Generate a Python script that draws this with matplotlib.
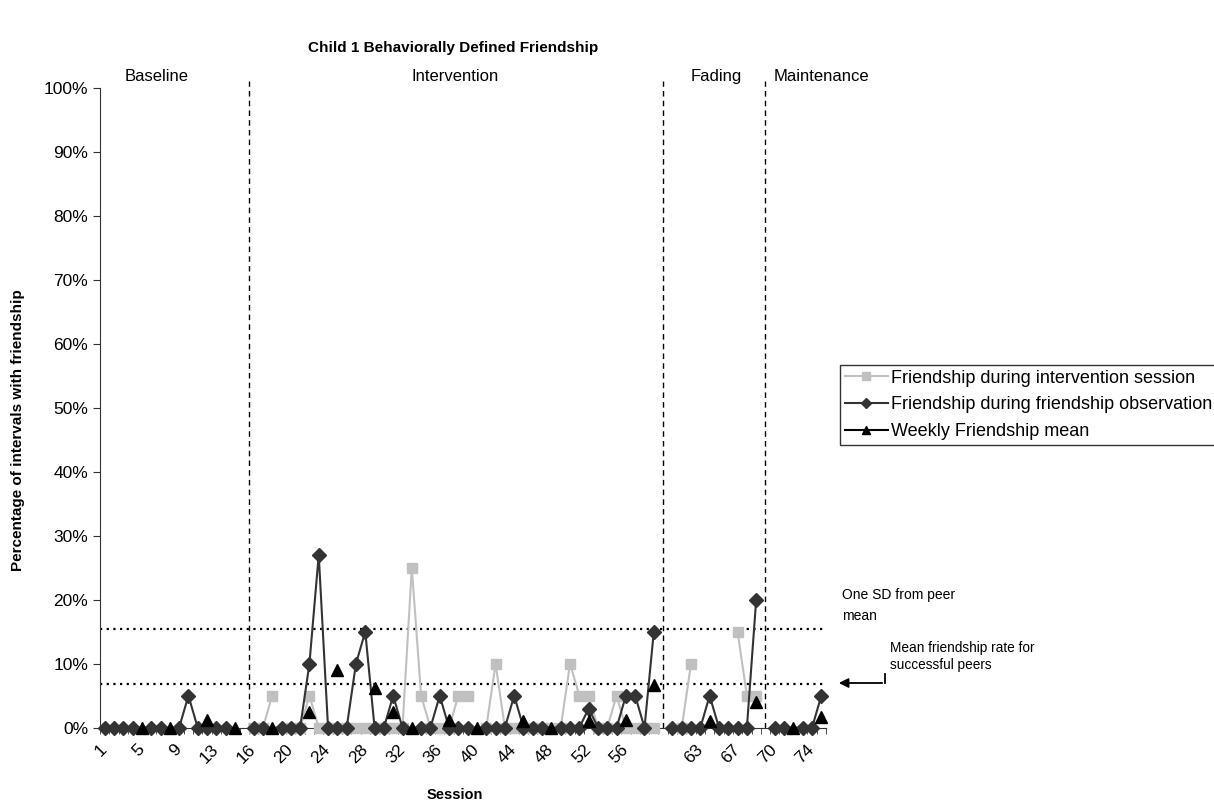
import numpy as np
import matplotlib.pyplot as plt
from matplotlib.lines import Line2D
from matplotlib.transforms import ScaledTranslation

plt.rcParams['font.family'] = ['Liberation Sans', 'DejaVu Sans']

nan = np.nan

# category positions on the x axis (one per plotted slot)
categories = list(range(1, 79))
tick_positions = list(range(1, 79, 4))
tick_labels = ["1", "5", "9", "13", "16", "20", "24", "28", "32", "36", "40",
               "44", "48", "52", "56", "", "63", "67", "70", "74"]

# Friendship during intervention session (%)
intervention_session = [
    nan, nan, nan, nan, nan, nan, nan, nan, nan, nan,
    nan, nan, nan, nan, nan, nan, 0, 0, 5, nan,
    0, 0, 5, 0, 0, 0, 0, 0, 0, 0,
    0, 0, 0, 25, 5, 0, 0, 0, 5, 5,
    nan, 0, 10, 0, 0, 0, 0, 0, 0, 0,
    10, 5, 5, 0, 0, 5, 0, 0, 0, 0,
    nan, nan, 0, 10, nan, nan, nan, nan, 15, 5,
    5, nan, nan, nan, nan, nan, nan, nan]

# Friendship during friendship observation (%)
friendship_observation = [
    0, 0, 0, 0, nan, 0, 0, nan, 0, 5,
    0, 0, 0, 0, nan, nan, 0, 0, nan, 0,
    0, 0, 10, 27, 0, 0, 0, 10, 15, 0,
    0, 5, 0, nan, 0, 0, 5, 0, 0, 0,
    nan, 0, 0, 0, 5, 0, 0, 0, nan, 0,
    0, 0, 3, 0, 0, 0, 5, 5, 0, 15,
    nan, 0, 0, 0, 0, 5, 0, 0, 0, 0,
    20, nan, 0, 0, nan, 0, 0, 5]

# Weekly Friendship mean (%)
weekly_mean = [
    nan, nan, nan, nan, 0, nan, nan, 0, nan, nan,
    nan, 1.2, nan, nan, 0, nan, nan, nan, 0, nan,
    nan, nan, 2.5, nan, nan, 9, nan, nan, nan, 6.2,
    nan, 2.5, nan, 0, nan, nan, nan, 1.2, nan, nan,
    0, nan, nan, nan, nan, 1, nan, nan, 0, nan,
    nan, nan, 1, nan, nan, nan, 1.2, nan, nan, 6.7,
    nan, nan, nan, nan, nan, 1, nan, nan, nan, nan,
    4, nan, nan, nan, 0, nan, nan, 1.7]

phase_names = ["Baseline", "Intervention", "Fading", "Maintenance"]
phase_ranges = [(1, 15), (17, 60), (62, 71), (73, 78)]
phase_lines = [16.5, 61, 72]
phase_label_x = [6.6, 38.7, 66.7, 78.0]

peer_sd = 15.4
peer_mean = 6.8

fig = plt.figure(figsize=(12.14, 8.01), dpi=100)
ax = fig.add_axes([100 / 1214, 73.3 / 801, 726 / 1214, 640 / 801])

x = np.array(categories, dtype=float)
obs = np.array(friendship_observation, dtype=float)

# gray series: gaps left as gaps
ax.plot(x, intervention_session, color='#C0C0C0', lw=1.5, marker='s', ms=7.5,
        mec='#C0C0C0', mfc='#C0C0C0', zorder=3, clip_on=False)

# observation series: connected within each phase
for start, end in phase_ranges:
    m = (x >= start) & (x <= end) & ~np.isnan(obs)
    ax.plot(x[m], obs[m], color='#333333', lw=1.5, zorder=4, clip_on=False)
ax.plot(x, obs, ls='none', marker='D', ms=7, color='#333333', zorder=5, clip_on=False)

ax.plot(x, weekly_mean, color='black', lw=1.5, marker='^', ms=9, zorder=6, clip_on=False)

# reference lines
ax.axhline(peer_sd, color='black', ls=(0, (1, 2)), lw=1.6, zorder=2)
ax.axhline(peer_mean, color='black', ls=(0, (1, 2)), lw=1.6, zorder=2)
for px in phase_lines:
    ax.plot([px, px], [0, 101], color='black', ls=(0, (4, 3)), lw=1, clip_on=False, zorder=2)
for name, px in zip(phase_names, phase_label_x):
    ax.text(px, 101.8, name, ha='center', va='center', fontsize=12)

ax.set_xlim(0.5, 78.5)
ax.set_ylim(0, 100)
ax.set_yticks(range(0, 101, 10))
ax.set_yticklabels([f"{v}%" for v in range(0, 101, 10)], fontsize=12.5)
ax.set_xticks(tick_positions)
ax.set_xticklabels(tick_labels, rotation=45, ha='right', va='center',
                   rotation_mode='anchor', fontsize=12.5)
shift = ScaledTranslation(-17 / 100, 0, fig.dpi_scale_trans)
for lab in ax.get_xticklabels():
    lab.set_transform(lab.get_transform() + shift)
ax.set_xticks(np.arange(0.5, 79, 1), minor=True)
ax.tick_params(axis='x', which='major', length=0, pad=14)
ax.tick_params(axis='x', which='minor', length=4, direction='out', color='#333333')
ax.tick_params(axis='y', length=5, direction='out', color='#333333')
for s in ['top', 'right']:
    ax.spines[s].set_visible(False)
for s in ['left', 'bottom']:
    ax.spines[s].set_color('#333333')

fig.text(455 / 1214, 1 - 795 / 801, 'Session', ha='center', va='center',
         fontsize=10.5, fontweight='bold')
fig.text(18 / 1214, 1 - 430 / 801, 'Percentage of intervals with friendship', ha='center',
         va='center', rotation=90, fontsize=11, fontweight='bold')
fig.text(453 / 1214, 1 - 48 / 801, 'Child 1 Behaviorally Defined Friendship',
         ha='center', va='center', fontsize=11, fontweight='bold')

# legend
handles = [
    Line2D([], [], color='#C0C0C0', lw=1.5, marker='s', ms=6),
    Line2D([], [], color='#333333', lw=1.5, marker='D', ms=5),
    Line2D([], [], color='black', lw=1.5, marker='^', ms=6),
]
labels = ['Friendship during intervention session',
          'Friendship during friendship observation',
          'Weekly Friendship mean']
leg = fig.legend(handles, labels, loc='upper left', bbox_to_anchor=(840 / 1214, 1 - 365 / 801),
                 bbox_transform=fig.transFigure, fontsize=13, frameon=True, fancybox=False,
                 edgecolor='black', handlelength=2.4, handletextpad=0.2, labelspacing=0.55,
                 borderpad=0.25, borderaxespad=0)
leg.get_frame().set_linewidth(1)

# annotations
fig.text(842 / 1214, 1 - 588 / 801, 'One SD from peer\nmean', ha='left', va='top',
         fontsize=10, linespacing=1.65)
fig.text(890 / 1214, 1 - 641 / 801, 'Mean friendship rate for\nsuccessful peers', ha='left',
         va='top', fontsize=9.8, linespacing=1.3)
ax.annotate('', xy=(836, 801 - 683), xytext=(885, 801 - 683), xycoords='figure pixels',
            textcoords='figure pixels',
            arrowprops=dict(arrowstyle='-|>', color='black', lw=1.3, mutation_scale=14))
fig.add_artist(Line2D([885 / 1214, 885 / 1214], [1 - 683 / 801, 1 - 674 / 801],
                      color='black', lw=1.3, transform=fig.transFigure))

fig.savefig('out.png', dpi=100)
